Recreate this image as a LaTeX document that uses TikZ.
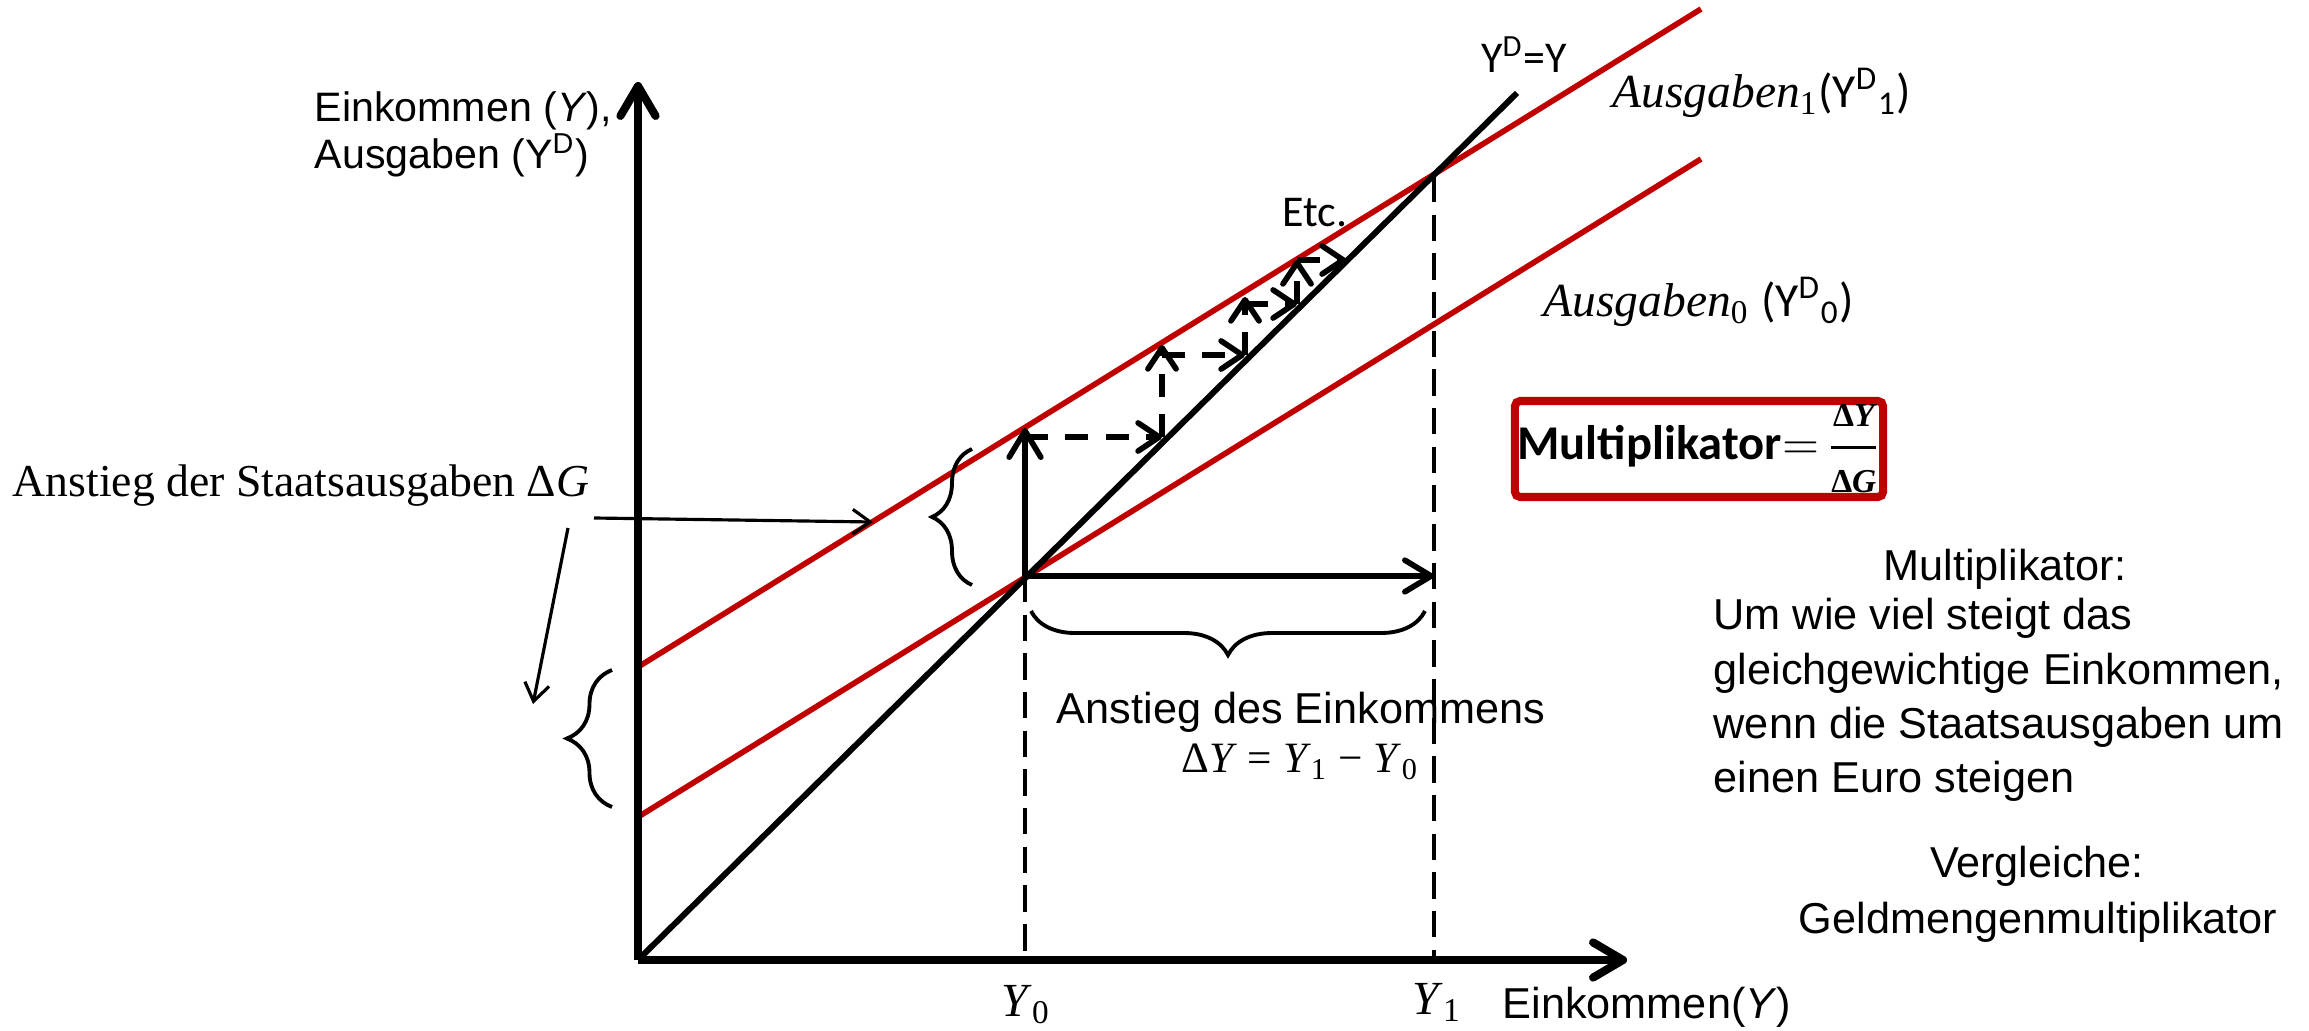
\RequirePackage{fix-cm}
\documentclass[tikz,border=0pt]{standalone}
\usepackage{amsmath}
\usepackage{fontspec}
\setmainfont{Liberation Sans}
\newfontfamily\carlito{Carlito}
\newfontfamily\cambria{Liberation Serif}
\usepackage{tikz}
\usetikzlibrary{arrows.meta,decorations.pathreplacing}
\definecolor{slidered}{RGB}{192,0,0}
\newcommand{\vY}{\textit{Y}}
\tikzset{
    axisarrow/.style={line width=2.3pt, -{Straight Barb[round, length=8.5pt, width=10pt]}},
    diagline/.style={line width=1.7pt, black},
    spendline/.style={line width=1.6pt, slidered},
    guideline/.style={line width=1.2pt, dash pattern=on 7.5pt off 3.5pt},
    stepsolid/.style={line width=1.6pt, -{Straight Barb[round, length=7.5pt, width=9pt]}},
    stepdash/.style={line width=1.6pt, dash pattern=on 6.5pt off 5pt, -{Straight Barb[round, length=6pt, width=8pt]}},
    notearrow/.style={line width=0.9pt, -{Straight Barb[length=5pt, width=7pt]}},
    bracemark/.style={line width=1.1pt, decorate, decoration={brace, amplitude=#1}},
    bodytext/.style={font=\fontsize{12.3}{15.4}\selectfont, inner sep=0pt},
    axislabel/.style={font=\fontsize{11.7}{13.4}\selectfont, inner sep=0pt},
    calibritext/.style={font=\carlito\fontsize{12.5}{14}\selectfont, inner sep=0pt},
    mathlabel/.style={font=\cambria\fontsize{13.5}{15.4}\selectfont, inner sep=0pt}
}
\begin{document}
\begin{tikzpicture}[x=0.01cm, y=-0.01cm]
        \useasboundingbox (0,0) rectangle (2309,1031);
        \coordinate (O) at (638,960);
        \coordinate (ytop) at (638,82);
        \coordinate (xend) at (1627,960);
        \coordinate (diagend) at (1517,93);
        \coordinate (low0) at (638,817);
        \coordinate (low1) at (1701,159);
        \coordinate (up0) at (638,667);
        \coordinate (up1) at (1701,9);
        \coordinate (E0) at (1025,576);
        \coordinate (E1) at (1434,176);
        \coordinate (E0foot) at (1025,960);
        \coordinate (E1foot) at (1434,960);
        \coordinate (E1level) at (1434,576);

        \draw[spendline] (low0) -- (low1);
        \draw[spendline] (up0) -- (up1);
        \draw[diagline] (O) -- (diagend);
        \draw[guideline] (E0) -- (E0foot);
        \draw[guideline] (E1) -- (E1foot);
        \draw[axisarrow] (O) -- (ytop);
        \draw[axisarrow] (O) -- (xend);

        \coordinate (st1) at (1025,428);
        \coordinate (st2) at (1025,437);
        \coordinate (st3) at (1162,437);
        \coordinate (st4) at (1162,345);
        \coordinate (st5) at (1162,355);
        \coordinate (st6) at (1245,355);
        \coordinate (st7) at (1245,297);
        \coordinate (st8) at (1245,304);
        \coordinate (st9) at (1297,304);
        \coordinate (st10) at (1297,260);
        \coordinate (st11) at (1346,260);
        \draw[stepsolid] (E0) -- (st1);
        \draw[stepdash] (st2) -- (st3);
        \draw[stepdash] (st3) -- (st4);
        \draw[stepdash] (st5) -- (st6);
        \draw[stepdash] (st6) -- (st7);
        \draw[stepdash] (st8) -- (st9);
        \draw[stepdash] (st9) -- (st10);
        \draw[stepdash] (st10) -- (st11);
        \draw[stepsolid] (E0) -- (E1level);

        \draw[bracemark=0.4cm] (972,585) -- (972,449);
        \draw[bracemark=0.45cm] (612,807) -- (612,670);
        \draw[bracemark=0.44cm] (1425,611) -- (1031,611);

        \node[axislabel, align=left, anchor=west] (ylabel) at (314,134) {Einkommen (\textit{Y}),\\Ausgaben (Y\textsuperscript{D})};
        \node[bodytext, anchor=base west] (xlabel) at (1502,1018) {Einkommen(\textit{Y})};
        \node[mathlabel, anchor=base] (lblY0) at (1026,1016) {\vY\textsubscript{0}};
        \node[mathlabel, anchor=base] (lblY1) at (1437,1014) {\vY\textsubscript{1}};
        \node[calibritext] (lbl45) at (1524,55) {Y\textsuperscript{D}=Y};
        \node[mathlabel, anchor=west] (lblA1) at (1612,93) {\textit{Ausgaben}\textsubscript{1}{\carlito(Y\textsuperscript{D}\textsubscript{1})}};
        \node[mathlabel, anchor=west] (lblA0) at (1543,302) {\textit{Ausgaben}\textsubscript{0} {\carlito(Y\textsuperscript{D}\textsubscript{0})}};
        \node[calibritext] (lblEtc) at (1315,213) {Etc.};
        \node[draw=slidered, line width=2.3pt, rounded corners=1.5pt, minimum width=3.68cm, minimum height=0.96cm, inner sep=0pt, font=\carlito\fontsize{13.8}{15}\selectfont] (multbox) at (1699,449) {\textbf{Multiplikator}$=$\,$\dfrac{\text{\cambria\fontsize{9.5}{10}\selectfont\bfseries Δ\itshape Y}}{\text{\cambria\fontsize{9.5}{10}\selectfont\bfseries Δ\itshape G}}$};
        \node[bodytext] (multhead) at (2005,569) {Multiplikator:};
        \node[bodytext, align=left, anchor=west] (multdef) at (1713,700) {Um wie viel steigt das\\gleichgewichtige Einkommen,\\wenn die Staatsausgaben um\\einen Euro steigen};
        \node[bodytext] (verglhead) at (2037,866) {Vergleiche:};
        \node[bodytext] (verglword) at (2038,922) {Geldmengenmultiplikator};
        \node[bodytext, anchor=base] (lblDY) at (1301,723) {Anstieg des Einkommens};
        \node[mathlabel, font=\cambria\fontsize{12.3}{14}\selectfont, anchor=base] (lblDYf) at (1300,773) {Δ\vY\ = \vY\textsubscript{1} − \vY\textsubscript{0}};
        \node[font=\cambria\fontsize{13}{15}\selectfont, inner sep=0pt, anchor=west] (lblG) at (12,486) {Anstieg der Staatsausgaben Δ\textit{G}};

        \coordinate (Gtip1) at (873,522);
        \coordinate (Gtip2) at (533,704);
        \draw[notearrow] ([shift={(4,32)}]lblG.east) -- (Gtip1);
        \draw[notearrow] ([shift={(-22,42)}]lblG.east) -- (Gtip2);
    \end{tikzpicture}
\end{document}
